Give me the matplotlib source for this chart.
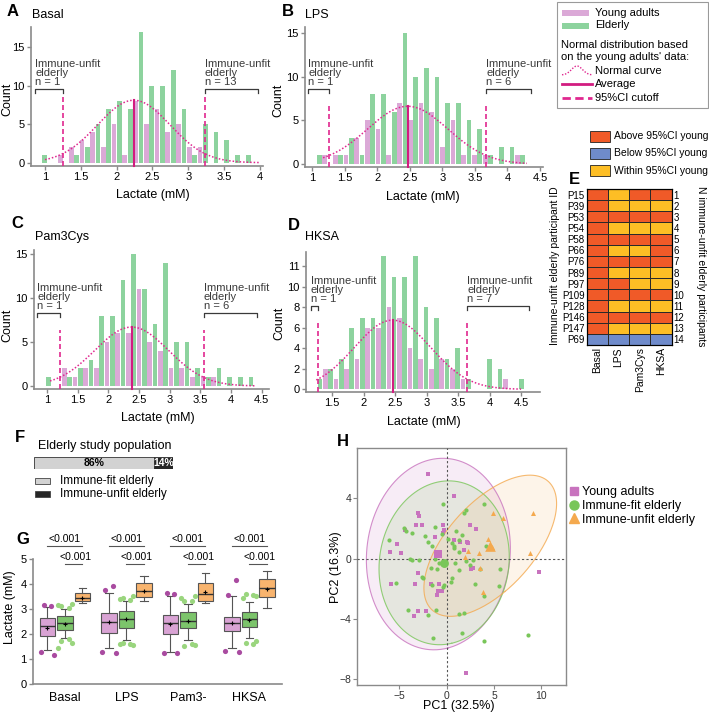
import numpy as np
import matplotlib
matplotlib.use("Agg")
import matplotlib.pyplot as plt
from matplotlib.patches import Rectangle
from matplotlib.lines import Line2D
from matplotlib.colors import ListedColormap

plt.rcParams["font.family"] = ["Liberation Sans", "DejaVu Sans"]

# ── Histogrammes A–D : effectifs par classe (jeunes = rose, âgés = vert) ─────
STIMULI = ["Basal", "LPS", "Pam3Cys", "HKSA"]
A_GREEN = [1, 0, 0, 1, 2, 5, 7, 8, 7, 17, 10, 10, 12, 7, 1, 5, 4, 3, 1, 1]
A_PINK = [0, 0, 1, 2, 3, 4, 2, 5, 1, 8, 5, 7, 4, 5, 2, 2, 0, 0, 0, 0]
B_GREEN = [1, 0, 1, 3, 1, 8, 8, 6, 15, 10, 11, 10, 7, 7, 5, 4, 1, 2, 2, 1]
B_PINK = [1, 1, 1, 3, 5, 4, 1, 7, 5, 7, 6, 2, 5, 1, 1, 1, 0, 0, 1, 0]
C_GREEN = [1, 0, 1, 2, 3, 8, 8, 12, 15, 11, 7, 14, 5, 5, 2, 1, 2, 1, 1, 1]
C_PINK = [0, 2, 1, 2, 2, 5, 6, 6, 11, 5, 4, 2, 2, 1, 1, 1, 0, 0, 0, 0]
D_GREEN = [1, 2, 3, 6, 7, 7, 13, 11, 11, 13, 8, 7, 3, 4, 1, 0, 3, 2, 0, 1]
D_PINK = [2, 1, 2, 3, 6, 6, 8, 7, 4, 3, 2, 3, 2, 1, 0, 0, 0, 1, 0, 0]
HIST_GREEN = [A_GREEN, B_GREEN, C_GREEN, D_GREEN]
HIST_PINK = [A_PINK, B_PINK, C_PINK, D_PINK]
HIST_START = [0.99, 1.11, 1.02, 1.31]      # first elderly bar (mM)
HIST_STEP = [0.15, 0.1645, 0.174, 0.168]   # bin width (mM)

# loi normale ajustée sur les jeunes
NORM_MEAN = [2.24, 2.47, 2.38, 2.46]
NORM_SD = [0.505, 0.617, 0.60, 0.605]
NORM_PEAK = [8.1, 6.6, 6.7, 6.75]
CURVE_FROM = [1.0, 1.17, 1.05, 1.25]
CURVE_TO = [4.0, 4.3, 4.4, 4.5]
N_LOW = [1, 1, 1, 1]
N_HIGH = [13, 6, 6, 7]
D_YTICKLABELS = ["0", "2", "4", "6", "8", "10", "11"]

# ── E : statut par participant (2 = au-dessus, 1 = dans, 0 = en dessous) ────
E_IDS = ["P15", "P39", "P53", "P54", "P58", "P66", "P76", "P89", "P97",
         "P109", "P128", "P146", "P147", "P69"]
E_STATUS = [[2, 1, 2, 2], [2, 1, 1, 1], [2, 2, 2, 2], [2, 1, 1, 1], [2, 2, 2, 2],
            [2, 1, 1, 2], [2, 2, 2, 2], [2, 1, 1, 1], [2, 2, 1, 1], [2, 2, 2, 2],
            [2, 1, 1, 1], [2, 2, 2, 2], [2, 1, 1, 1], [0, 0, 0, 0]]
E_LEGEND = ["Above 95%CI young", "Below 95%CI young", "Within 95%CI young"]

# ── F ─────────────────────────────────────────────────────────────────────────
F_LABELS = ["Immune-fit elderly", "Immune-unfit elderly"]
F_PCT = [86, 14]

# ── G : boîtes (jeunes / âgés aptes / âgés inaptes) ─────────────────────────
G_GROUPS = ["Basal", "LPS", "Pam3-", "HKSA"]
Y_Q1 = [1.91, 2.05, 1.99, 2.13]
Y_MED = [2.30, 2.49, 2.45, 2.42]
Y_Q3 = [2.62, 2.82, 2.75, 2.69]
Y_LO = [1.36, 1.42, 1.29, 1.42]
Y_HI = [3.08, 3.65, 3.50, 3.50]
Y_MEAN = [2.25, 2.47, 2.40, 2.45]
Y_OUT = [[3.12, 3.15, 1.15, 1.28], [3.93, 3.75, 1.22, 1.29],
         [3.60, 3.65, 1.22, 1.22], [4.15, 3.55, 1.28, 1.32]]
F_Q1 = [2.15, 2.25, 2.22, 2.26]
F_MED = [2.42, 2.60, 2.50, 2.58]
F_Q3 = [2.71, 2.92, 2.89, 2.89]
F_LO = [1.85, 1.75, 1.75, 1.82]
F_HI = [3.00, 3.30, 3.20, 3.28]
F_MEAN = [2.40, 2.58, 2.50, 2.55]
F_OUT = [[3.02, 3.10, 3.20, 3.15, 1.78, 1.72, 1.65, 1.45],
         [3.35, 3.45, 3.50, 3.40, 1.60, 1.65, 1.55, 1.60],
         [3.30, 3.32, 3.50, 3.45, 1.60, 1.50, 1.55],
         [3.55, 3.60, 3.50, 3.45, 1.60, 1.65, 1.70]]
U_Q1 = [3.31, 3.46, 3.30, 3.48]
U_MED = [3.44, 3.71, 3.58, 3.82]
U_Q3 = [3.62, 4.04, 4.04, 4.19]
U_LO = [3.22, 3.32, 3.22, 3.05]
U_HI = [3.84, 4.32, 4.42, 4.50]
U_MEAN = [3.45, 3.73, 3.68, 3.78]
P_YOUNG_UNFIT = ["<0.001", "<0.001", "<0.001", "<0.001"]
P_FIT_UNFIT = ["<0.001", "<0.001", "<0.001", "<0.001"]

# ── H : ACP ───────────────────────────────────────────────────────────────────
YOUNG_PC1 = [-2.0, 0.77, -3.0, -2.9, -3.2, -2.6, -0.35, -0.28, -4.4, -1.23, -5.25, -6.0,
             -4.83, 0.77, 1.4, 2.1, 2.45, 3.1, 1.8, 2.6, 2.8, -3.0, -3.35, -5.9, -1.7,
             -0.88, -0.53, -0.8, -3.0, -2.2, -3.5, 9.8, 2.0, -0.35, -1.05, 2.2]
YOUNG_PC2 = [5.6, 4.15, 3.0, 2.85, 2.25, 2.25, 2.25, 1.9, 1.9, 1.45, 0.94, 0.41,
             0.35, 1.2, 1.13, 1.1, 2.2, 1.95, 0.6, -0.7, -0.65, -0.95, -1.66, -1.66, -1.66,
             -2.17, -2.17, -1.7, -3.45, -3.5, -3.8, -0.9, -7.6, 1.7, -2.4, 1.06]
FIT_PC1 = [-0.4, 3.9, 2.0, 1.8, -1.23, -4.5, -4.3, -3.7, -6.1, -2.3, -2.0, -1.5, -0.45,
           1.0, 1.6, 0.6, 0.77, 1.3, 0.8, 1.35, 4.2, -3.85, -3.65, -2.9, -1.2, -0.8, -1.7,
           -1.0, -0.25, 0.9, 1.25, 2.04, 2.75, 5.6, -2.6, -2.5, 0.6, 0.5, -0.25, -0.4,
           -5.4, 3.0, 5.5, 3.9, -1.5, -4.1, -1.1, -2.0, 1.35, 1.8, 1.6, -1.45, 3.9, 8.6,
           0.15, 2.5, 3.5]
FIT_PC2 = [3.65, 3.65, 3.2, 3.0, 2.1, 2.0, 1.8, 1.7, 1.2, 1.5, 1.1, 0.85, 1.6,
           1.85, 1.55, 1.0, 0.83, 1.2, 0.67, 0.45, 0.83, -0.05, -0.1, -0.1, 0.0, -0.3, -0.6,
           -0.72, -0.45, -0.3, -0.75, -0.15, -0.12, -0.72, -1.2, -1.3, -1.32, -1.58, -1.75, -1.9,
           -1.6, -1.7, -1.8, -2.5, -1.75, -3.4, -3.4, -3.75, -3.65, -3.6, -4.9, -5.24, -5.45, -5.07,
           1.3, -0.4, -0.7]
UNFIT_PC1 = [4.9, 5.9, 9.1, 8.8, 2.3, 3.4, 3.5, 3.8, 1.9, 4.4, 4.8]
UNFIT_PC2 = [3.0, 2.7, 3.0, 0.4, 0.5, 0.35, -0.6, -2.2, 0.1, 1.3, 0.8]
# ellipses de confiance : centre et covariance (mise à l'échelle)
YOUNG_CENTER = (-0.88, 0.30)
YOUNG_COV = [[57.8, 3.0], [3.0, 40.3]]
FIT_CENTER = (-0.27, -0.28)
FIT_COV = [[47.3, 2.7], [2.7, 29.5]]
UNFIT_CENTER = (4.6, 0.85)
UNFIT_COV = [[49.1, 19.6], [19.6, 21.9]]
H_LABELS = ["Young adults", "Immune-fit elderly", "Immune-unfit elderly"]

# ── Couleurs ──────────────────────────────────────────────────────────────────
PINK = "#DBA9D7"
GREEN = "#8DD39E"
MAGENTA = "#E0288F"
AX_GRAY = "#8A8A8A"
DARK = "#3A3A3A"
E_COLORS = ["#6F8BCB", "#FDBE25", "#F05A28"]
BOX_COLORS = ["#D9A3D4", "#7CC46B", "#F8B46E"]
FLIER_COLORS = ["#A94BA0", "#9AD57E"]
H_COLORS = ["#C873BE", "#79C659", "#F4A94E"]

# ── Helpers de mise en page (pixels) ──────────────────────────────────────────
W, H = 709, 712
fig = plt.figure(figsize=(W / 100, H / 100), dpi=100)


def fx(x):
    return np.asarray(x) / W


def fy(y):
    return 1 - np.asarray(y) / H


def px_axes(x0, y0, x1, y1):
    return fig.add_axes([fx(x0), fy(y1), (x1 - x0) / W, (y1 - y0) / H])


def ftext(x, y, s, **kw):
    kw.setdefault("va", "center")
    return fig.text(fx(x), fy(y), s, **kw)


def letter(x, y, s):
    ftext(x, y, s, fontsize=12, fontweight="bold", ha="center",
          family=["Liberation Sans Narrow", "Liberation Sans", "DejaVu Sans"])


def style_axis(ax, fs=8):
    for s in ("top", "right"):
        ax.spines[s].set_visible(False)
    for s in ("left", "bottom"):
        ax.spines[s].set_color(AX_GRAY)
        ax.spines[s].set_linewidth(1.2)
    ax.tick_params(colors=AX_GRAY, labelcolor="black", labelsize=fs, length=3, width=1, pad=1.5)


# ── Panneaux A–D ──────────────────────────────────────────────────────────────
HIST_LAYOUT = [
    dict(box=(31, 27, 263, 166), xlim=(0.804, 4.045), ylim=(-0.43, 17.6),
         xticks=[1, 1.5, 2, 2.5, 3, 3.5, 4], yticks=[0, 5, 10, 15], side=-1,
         ci_top=8.6, br_y=9.6, br_left=0.86, br_right=3.97,
         letter=(13, 11), title=(32, 15), ylab=(7, 99), xlab=(153, 195)),
    dict(box=(305, 27, 543, 167), xlim=(0.892, 4.548), ylim=(-0.34, 15.66),
         xticks=[1, 1.5, 2, 2.5, 3, 3.5, 4, 4.5], yticks=[0, 5, 10, 15], side=1,
         ci_top=6.9, br_y=8.6, br_left=0.94, br_right=4.37,
         letter=(288, 12), title=(305, 15), ylab=(278, 100), xlab=(423, 197)),
    dict(box=(34, 250, 269, 389), xlim=(0.788, 4.62), ylim=(-0.34, 15.46),
         xticks=[1, 1.5, 2, 2.5, 3, 3.5, 4, 4.5], yticks=[0, 5, 10, 15], side=1,
         ci_top=6.4, br_y=8.3, br_left=0.84, br_right=4.42,
         letter=(17, 223), title=(35, 237), ylab=(7, 325), xlab=(158, 418)),
    dict(box=(306, 252, 540, 392), xlim=(1.087, 4.80), ylim=(-0.26, 13.4),
         xticks=[1.5, 2, 2.5, 3, 3.5, 4, 4.5], yticks=[0, 2, 4, 6, 8, 10, 12], side=1,
         ci_top=6.8, br_y=8.1, br_left=1.16, br_right=4.63,
         letter=(294, 226), title=(305, 237), ylab=(279, 323), xlab=(424, 422)),
]

for i, lay in enumerate(HIST_LAYOUT):
    ax = px_axes(*lay["box"])
    step = HIST_STEP[i]
    k = np.arange(len(HIST_GREEN[i]))
    gx = HIST_START[i] + step * k
    pxs = gx + lay["side"] * step / 2
    ax.bar(pxs, HIST_PINK[i], width=step * 0.44, color=PINK, linewidth=0, zorder=2)
    ax.bar(gx, HIST_GREEN[i], width=step * 0.44, color=GREEN, linewidth=0, zorder=2)

    mu, sd, peak = NORM_MEAN[i], NORM_SD[i], NORM_PEAK[i]
    xc = np.linspace(CURVE_FROM[i], CURVE_TO[i], 300)
    ax.plot(xc, peak * np.exp(-0.5 * ((xc - mu) / sd) ** 2), color=MAGENTA,
            lw=1.1, ls=(0, (1, 1.3)), zorder=4)
    y0 = lay["ylim"][0]
    ax.plot([mu, mu], [y0, peak], color="#D21C80", lw=1.5, zorder=5, clip_on=False)
    lo, hi = mu - 1.96 * sd, mu + 1.96 * sd
    for c in (lo, hi):
        ax.plot([c, c], [y0, lay["ci_top"]], color=MAGENTA, lw=1.2,
                dashes=(3, 1.8), zorder=5, clip_on=False)

    bh, by = lay["box"][3] - lay["box"][1], lay["br_y"]
    d = 4 * (lay["ylim"][1] - lay["ylim"][0]) / bh
    for a, b, tx, n in ((lay["br_left"], lo, lay["br_left"], N_LOW[i]),
                        (hi, lay["br_right"], hi, N_HIGH[i])):
        ax.plot([a, a, b, b], [by - d, by, by, by - d], color=DARK, lw=0.9, clip_on=False)
        ax.annotate(f"Immune-unfit\nelderly\nn = {n}", (tx, by), xytext=(0, 1.5),
                    textcoords="offset points", ha="left", va="bottom",
                    fontsize=8, linespacing=0.88, annotation_clip=False, color=DARK)

    ax.set_xlim(*lay["xlim"])
    ax.set_ylim(*lay["ylim"])
    ax.set_xticks(lay["xticks"])
    ax.set_xticklabels([f"{t:g}" for t in lay["xticks"]])
    if i == 3:
        ax.set_yticks(lay["yticks"], labels=D_YTICKLABELS)
    else:
        ax.set_yticks(lay["yticks"])
    style_axis(ax, fs=8)

    letter(*lay["letter"], "ABCD"[i])
    ftext(*lay["title"], STIMULI[i], fontsize=9)
    ftext(*lay["ylab"], "Count", fontsize=9, rotation=90, ha="center")
    ftext(*lay["xlab"], "Lactate (mM)", fontsize=9, ha="center")

# ── Légende commune A–D ───────────────────────────────────────────────────────
fig.add_artist(Rectangle((fx(557), fy(108)), (708 - 557) / W, 106 / H, transform=fig.transFigure,
                         fill=False, edgecolor="#9A9A9A", lw=0.8))
for yy, col, lab in ((12.5, PINK, "Young adults"), (25.5, GREEN, "Elderly")):
    fig.add_artist(Rectangle((fx(562), fy(yy + 3)), 27 / W, 6 / H, transform=fig.transFigure,
                             color=col, lw=0))
    ftext(595, yy, lab, fontsize=8)
ftext(561, 44.5, "Normal distribution based", fontsize=8)
ftext(561, 57.5, "on the young adults' data:", fontsize=8)
xi = np.linspace(562, 592, 60)
yi = 75 - 9 * np.exp(-0.5 * ((xi - 577) / 5.5) ** 2)
fig.add_artist(Line2D(fx(xi), fy(yi), transform=fig.transFigure, color=MAGENTA, lw=1,
                      ls=(0, (1, 1.2))))
ftext(595, 71, "Normal curve", fontsize=8)
fig.add_artist(Line2D(fx([562, 592]), fy([84, 84]), transform=fig.transFigure,
                      color="#D21C80", lw=2))
ftext(595, 84, "Average", fontsize=8)
fig.add_artist(Line2D(fx([562, 592]), fy([98, 98]), transform=fig.transFigure,
                      color=MAGENTA, lw=2, dashes=(3, 1.6)))
ftext(595, 98, "95%CI cutoff", fontsize=8)

# ── Panneau E ────────────────────────────────────────────────────────────────
for j, (yy, cidx) in enumerate(zip((136, 153, 170.5), (2, 0, 1))):
    fig.add_artist(Rectangle((fx(590), fy(yy + 5.5)), 20 / W, 11 / H, transform=fig.transFigure,
                             facecolor=E_COLORS[cidx], edgecolor="#222", lw=0.6))
    ftext(614, yy, E_LEGEND[j], fontsize=7.5)
letter(574, 179, "E")

ax_e = px_axes(586.7, 189, 671.7, 345)
ax_e.pcolormesh(np.array(E_STATUS), cmap=ListedColormap(E_COLORS), vmin=-0.5, vmax=2.5,
                edgecolors="#2A2A2A", linewidth=0.6)
ax_e.set_xlim(0, 4)
ax_e.set_ylim(len(E_IDS), 0)
ax_e.set_yticks(np.arange(len(E_IDS)) + 0.5, labels=E_IDS)
ax_e.set_xticks(np.arange(4) + 0.5, labels=STIMULI, rotation=90)
ax_e.tick_params(length=0, labelsize=7, pad=1.5)
ax_e.tick_params(axis="x", labelsize=7.5)
for s in ax_e.spines.values():
    s.set_linewidth(0.8)
ax_r = ax_e.twinx()
ax_r.set_ylim(len(E_IDS), 0)
ax_r.set_yticks(np.arange(len(E_IDS)) + 0.5, labels=[str(n + 1) for n in range(len(E_IDS))])
ax_r.tick_params(length=0, labelsize=7, pad=1.5)
ftext(555, 266, "Immune-unfit elderly participant ID", fontsize=7.5, rotation=90, ha="center")
ftext(701, 266, "N immune-unfit elderly participants", fontsize=7.5, rotation=270, ha="center")

# ── Panneau F ────────────────────────────────────────────────────────────────
letter(20, 438, "F")
ftext(38, 446, "Elderly study population", fontsize=9)
ax_f = px_axes(34, 457, 173, 469)
f_colors = ["#D2D2D2", "#262626"]
left = 0
for pct, col, tc in zip(F_PCT, f_colors, ["black", "white"]):
    ax_f.barh(0, pct, left=left, height=1, color=col, edgecolor="#333", lw=0.6)
    ax_f.text(left + pct / 2, 0, f"{pct}%", ha="center", va="center", fontsize=7.5,
              fontweight="bold", color=tc)
    left += pct
ax_f.set_xlim(0, 100)
ax_f.set_ylim(-0.5, 0.5)
ax_f.axis("off")
for yy, col, lab in zip((481, 493.5), f_colors, F_LABELS):
    fig.add_artist(Rectangle((fx(35), fy(yy + 3)), 15 / W, 6 / H, transform=fig.transFigure,
                             facecolor=col, edgecolor="#444", lw=0.6))
    ftext(60, yy, lab, fontsize=8.5)

# ── Panneau G ────────────────────────────────────────────────────────────────
letter(23, 539, "G")
ax_g = px_axes(33, 558.7, 282, 684)
OFFS = [-0.285, 0.0, 0.285]
groups = [
    (Y_Q1, Y_MED, Y_Q3, Y_LO, Y_HI, Y_MEAN, Y_OUT),
    (F_Q1, F_MED, F_Q3, F_LO, F_HI, F_MEAN, F_OUT),
    (U_Q1, U_MED, U_Q3, U_LO, U_HI, U_MEAN, None),
]
for gi, (q1, med, q3, lo, hi, mean, out) in enumerate(groups):
    stats = [dict(q1=q1[c], med=med[c], q3=q3[c], whislo=lo[c], whishi=hi[c],
                  mean=mean[c], fliers=[]) for c in range(4)]
    pos = np.arange(4) + OFFS[gi]
    ax_g.bxp(stats, positions=pos, widths=0.25, patch_artist=True, showmeans=True,
             showfliers=False, capwidths=0.12,
             boxprops=dict(facecolor=BOX_COLORS[gi], edgecolor="#555", lw=0.8),
             medianprops=dict(color="#333", lw=1),
             whiskerprops=dict(color="#555", lw=0.8), capprops=dict(color="#555", lw=0.8),
             meanprops=dict(marker="+", markeredgecolor="black", markersize=3.5, markeredgewidth=0.8))
    if out is not None:
        for c in range(4):
            vals = np.array(out[c])
            n = len(vals)
            dx = np.array([(-1) ** j * (0.06 + 0.05 * ((j // 2) % 2)) for j in range(n)])
            ax_g.scatter(pos[c] + dx, vals, s=14, color=FLIER_COLORS[gi], lw=0, zorder=4)
for c in range(4):
    xy, xf, xu = c + OFFS[0], c + OFFS[1], c + OFFS[2]
    ax_g.plot([xy, xu], [5.5, 5.5], color="#555", lw=0.8, clip_on=False)
    ax_g.text((xy + xu) / 2, 5.57, P_YOUNG_UNFIT[c], ha="center", va="bottom", fontsize=7.5)
    ax_g.plot([xf, xu], [4.78, 4.78], color="#555", lw=0.8, clip_on=False)
    ax_g.text((xf + xu) / 2 + 0.03, 4.85, P_FIT_UNFIT[c], ha="center", va="bottom", fontsize=7.5)
ax_g.set_xlim(-0.52, 3.53)
ax_g.set_ylim(0, 5)
ax_g.set_yticks([0, 1, 2, 3, 4, 5])
ax_g.set_xticks(np.arange(4), labels=G_GROUPS)
style_axis(ax_g, fs=8)
ax_g.tick_params(axis="x", length=0, pad=6, labelsize=9)
ftext(10, 607, "Lactate (mM)", fontsize=9, rotation=90, ha="center")

# ── Panneau H ────────────────────────────────────────────────────────────────
letter(343, 442, "H")
ax_h = px_axes(357.3, 448.3, 566, 685)


def ellipse_pts(center, cov, n=240):
    vals, vecs = np.linalg.eigh(np.array(cov))
    t = np.linspace(0, 2 * np.pi, n)
    pts = vecs @ (np.sqrt(vals)[:, None] * np.vstack([np.cos(t), np.sin(t)]))
    return pts[0] + center[0], pts[1] + center[1]


ell = [(YOUNG_CENTER, YOUNG_COV, 0.13), (FIT_CENTER, FIT_COV, 0.14), (UNFIT_CENTER, UNFIT_COV, 0.12)]
for (cen, cov, al), col in zip(ell, H_COLORS):
    ex, ey = ellipse_pts(cen, cov)
    ax_h.fill(ex, ey, color=col, alpha=al, lw=0, zorder=1)
    ax_h.plot(ex, ey, color=col, lw=0.8, alpha=0.8, zorder=2)
ax_h.axhline(0, color="#555", lw=0.8, ls=(0, (2, 2)), zorder=3)
ax_h.axvline(0, color="#555", lw=0.8, ls=(0, (2, 2)), zorder=3)
pts = [(YOUNG_PC1, YOUNG_PC2, "s", 8), (FIT_PC1, FIT_PC2, "o", 9), (UNFIT_PC1, UNFIT_PC2, "^", 13)]
for (xs, ys, mk, sz), col in zip(pts, H_COLORS):
    ax_h.scatter(xs, ys, marker=mk, s=sz, color=col, lw=0, zorder=4)
for (cen, cov, al), (xs, ys, mk, sz), col in zip(ell, pts, H_COLORS):
    ax_h.scatter([cen[0]], [cen[1]], marker=mk, s=sz * 4.5, color=col, lw=0, zorder=5)
ax_h.set_xlim(-9.44, 12.6)
ax_h.set_ylim(-8.38, 7.31)
ax_h.set_xticks([-5, 0, 5, 10])
ax_h.set_yticks([-8, -4, 0, 4])
for s in ax_h.spines.values():
    s.set_color(AX_GRAY)
    s.set_linewidth(1)
ax_h.tick_params(colors=AX_GRAY, labelcolor="#333", labelsize=7.5, length=3, pad=1.5)
ftext(459, 706, "PC1 (32.5%)", fontsize=9, ha="center")
ftext(336, 567, "PC2 (16.3%)", fontsize=9, rotation=90, ha="center")
handles = [Line2D([], [], ls="", marker=m, color=c, markersize=ms)
           for m, c, ms in zip(["s", "o", "^"], H_COLORS, [6, 6.5, 7.5])]
ax_h.legend(handles, H_LABELS, loc="upper left", bbox_to_anchor=(fx(568), fy(486)),
            bbox_transform=fig.transFigure, frameon=False, fontsize=9,
            handletextpad=0.1, labelspacing=0.15, handlelength=1.0, borderpad=0, borderaxespad=0)

fig.savefig("out.png", dpi=100)
